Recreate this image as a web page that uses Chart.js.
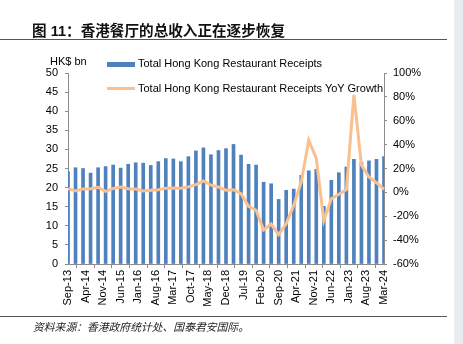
<!DOCTYPE html>
<html>
<head>
<meta charset="utf-8">
<script src="https://cdn.jsdelivr.net/npm/chart.js@4/dist/chart.umd.min.js"></script>
<style>
  html, body { margin: 0; padding: 0; background: #fff; }
  #wrap { position: relative; width: 463px; height: 344px; overflow: hidden; font-family: "Liberation Sans", Arial, "Noto Sans CJK SC", sans-serif; }
  #c { position: absolute; left: 0; top: 0; }
  .abs { position: absolute; white-space: nowrap; }
  #title { left: 32px; top: 19px; font-size: 14.6px; font-weight: bold; color: #111; font-family: "Liberation Sans", Arial, "Noto Sans CJK SC", sans-serif; }
  #rule1 { left: 0; top: 38.5px; width: 447px; height: 1.3px; background: #555; }
  #rule2 { left: 0; top: 315.5px; width: 447px; height: 1.3px; background: #555; }
  #source { left: 33px; top: 318px; font-size: 10.8px; font-style: italic; color: #222; font-family: "Noto Sans CJK SC", sans-serif; }
  #strip { left: 454px; top: 0; width: 9px; height: 344px; background: #e7ecf1; }
  #unit { left: 50px; top: 55px; font-size: 11px; color: #000; }
  .leg { font-size: 11px; color: #000; }
  #sw1 { left: 107px; top: 62px; width: 28px; height: 5px; background: #4F81BD; }
  #sw2 { left: 107px; top: 87px; width: 28px; height: 3px; background: #FAC090; }
  #lt1 { left: 138px; top: 57px; }
  #lt2 { left: 138px; top: 82px; }
</style>
</head>
<body>
<div id="wrap">
  <canvas id="c" width="463" height="344"></canvas>
  <div id="strip" class="abs"></div>
  <div id="title" class="abs">图 11：香港餐厅的总收入正在逐步恢复</div>
  <div id="rule1" class="abs"></div>
  <div id="unit" class="abs">HK$ bn</div>
  <div id="sw1" class="abs"></div>
  <div id="lt1" class="abs leg">Total Hong Kong Restaurant Receipts</div>
  <div id="sw2" class="abs"></div>
  <div id="lt2" class="abs leg">Total Hong Kong Restaurant Receipts YoY Growth</div>
  <div id="rule2" class="abs"></div>
  <div id="source" class="abs">资料来源：香港政府统计处、国泰君安国际。</div>
</div>
<script>
// Quarterly observations, Sep-13 ... Mar-24 (43 quarters)
const firstMonth = { year: 2013, month: 8 }; // Sep-2013 (0-based month)
const monthCount = 127; // Sep-13 .. Mar-24 monthly axis
const monthNames = ["Jan","Feb","Mar","Apr","May","Jun","Jul","Aug","Sep","Oct","Nov","Dec"];

const receipts = [
  24.2, 25.2, 25.0, 23.8, 25.2, 25.5, 25.9, 25.1, 26.1, 26.5,
  26.4, 25.8, 26.8, 27.6, 27.5, 26.8, 28.1, 29.6, 30.4, 28.6,
  29.7, 30.2, 31.3, 28.5, 26.1, 25.9, 21.4, 21.0, 16.9, 19.3,
  19.6, 23.2, 24.4, 24.8, 15.1, 21.9, 23.9, 25.4, 27.4, 26.6,
  27.0, 27.4, 28.1
];

const yoyGrowth = [
  3.1, 1.2, 2.9, 3.0, 4.3, 0.9, 3.3, 4.4, 3.0, 2.8,
  1.1, 1.7, 2.2, 3.4, 3.6, 3.4, 4.6, 6.5, 9.5, 6.0,
  4.5, 1.8, 2.2, -1.1, -11.7, -15.0, -31.5, -26.5, -35.4, -26.4,
  -10.9, 8.7, 43.8, 28.4, -23.6, -5.3, -1.6, 2.3, 81.7, 22.8,
  12.9, 8.1, 2.5
];

const leftTicks = { min: 0, max: 50, step: 5 };
const rightTicks = { min: -60, max: 100, step: 20 };

// Monthly category labels
const monthLabels = [];
for (let i = 0; i < monthCount; i++) {
  const m = (firstMonth.month + i) % 12;
  const y = firstMonth.year + Math.floor((firstMonth.month + i) / 12);
  monthLabels.push(monthNames[m] + "-" + String(y % 100).padStart(2, "0"));
}
// place quarterly values on every third month
const barData = monthLabels.map(() => null);
const lineData = monthLabels.map(() => null);
receipts.forEach((v, i) => { barData[i * 3] = v; });
yoyGrowth.forEach((v, i) => { lineData[i * 3] = v; });

const font = { family: "'Liberation Sans', Arial, sans-serif", size: 11 };
const axisColor = "#8c8c8c";

new Chart(document.getElementById("c"), {
  data: {
    labels: monthLabels,
    datasets: [
      {
        type: "line",
        label: "Total Hong Kong Restaurant Receipts YoY Growth",
        data: lineData,
        yAxisID: "y1",
        borderColor: "#FAC090",
        borderWidth: 3,
        pointRadius: 0,
        spanGaps: true,
        tension: 0,
        order: 0
      },
      {
        type: "bar",
        label: "Total Hong Kong Restaurant Receipts",
        data: barData,
        yAxisID: "y",
        backgroundColor: "#4F81BD",
        barThickness: 3,
        order: 1
      }
    ]
  },
  options: {
    responsive: false,
    animation: false,
    events: [],
    layout: { padding: { top: 73, left: 0, right: 0, bottom: 0 } },
    plugins: { legend: { display: false }, tooltip: { enabled: false } },
    scales: {
      x: {
        type: "category",
        offset: false,
        afterFit: s => { s.height = 80; },
        afterBuildTicks: s => { s.ticks = s.ticks.filter((t, i) => i % 7 === 0); },
        grid: { drawOnChartArea: false, tickLength: 4, color: axisColor },
        border: { color: axisColor },
        ticks: { autoSkip: false, minRotation: 90, maxRotation: 90, font: font, color: "#000", padding: 2 }
      },
      y: {
        position: "left",
        min: leftTicks.min, max: leftTicks.max,
        afterFit: s => { s.width = 68; },
        grid: { drawOnChartArea: false, tickLength: 3, color: axisColor },
        border: { color: axisColor },
        ticks: { stepSize: leftTicks.step, font: font, color: "#000", padding: 7 }
      },
      y1: {
        position: "right",
        min: rightTicks.min, max: rightTicks.max,
        afterFit: s => { s.width = 79; },
        grid: { drawOnChartArea: false, tickLength: 3, color: axisColor },
        border: { color: axisColor },
        ticks: { stepSize: rightTicks.step, font: font, color: "#000", padding: 6, callback: v => v + "%" }
      }
    }
  }
});
</script>
</body>
</html>
